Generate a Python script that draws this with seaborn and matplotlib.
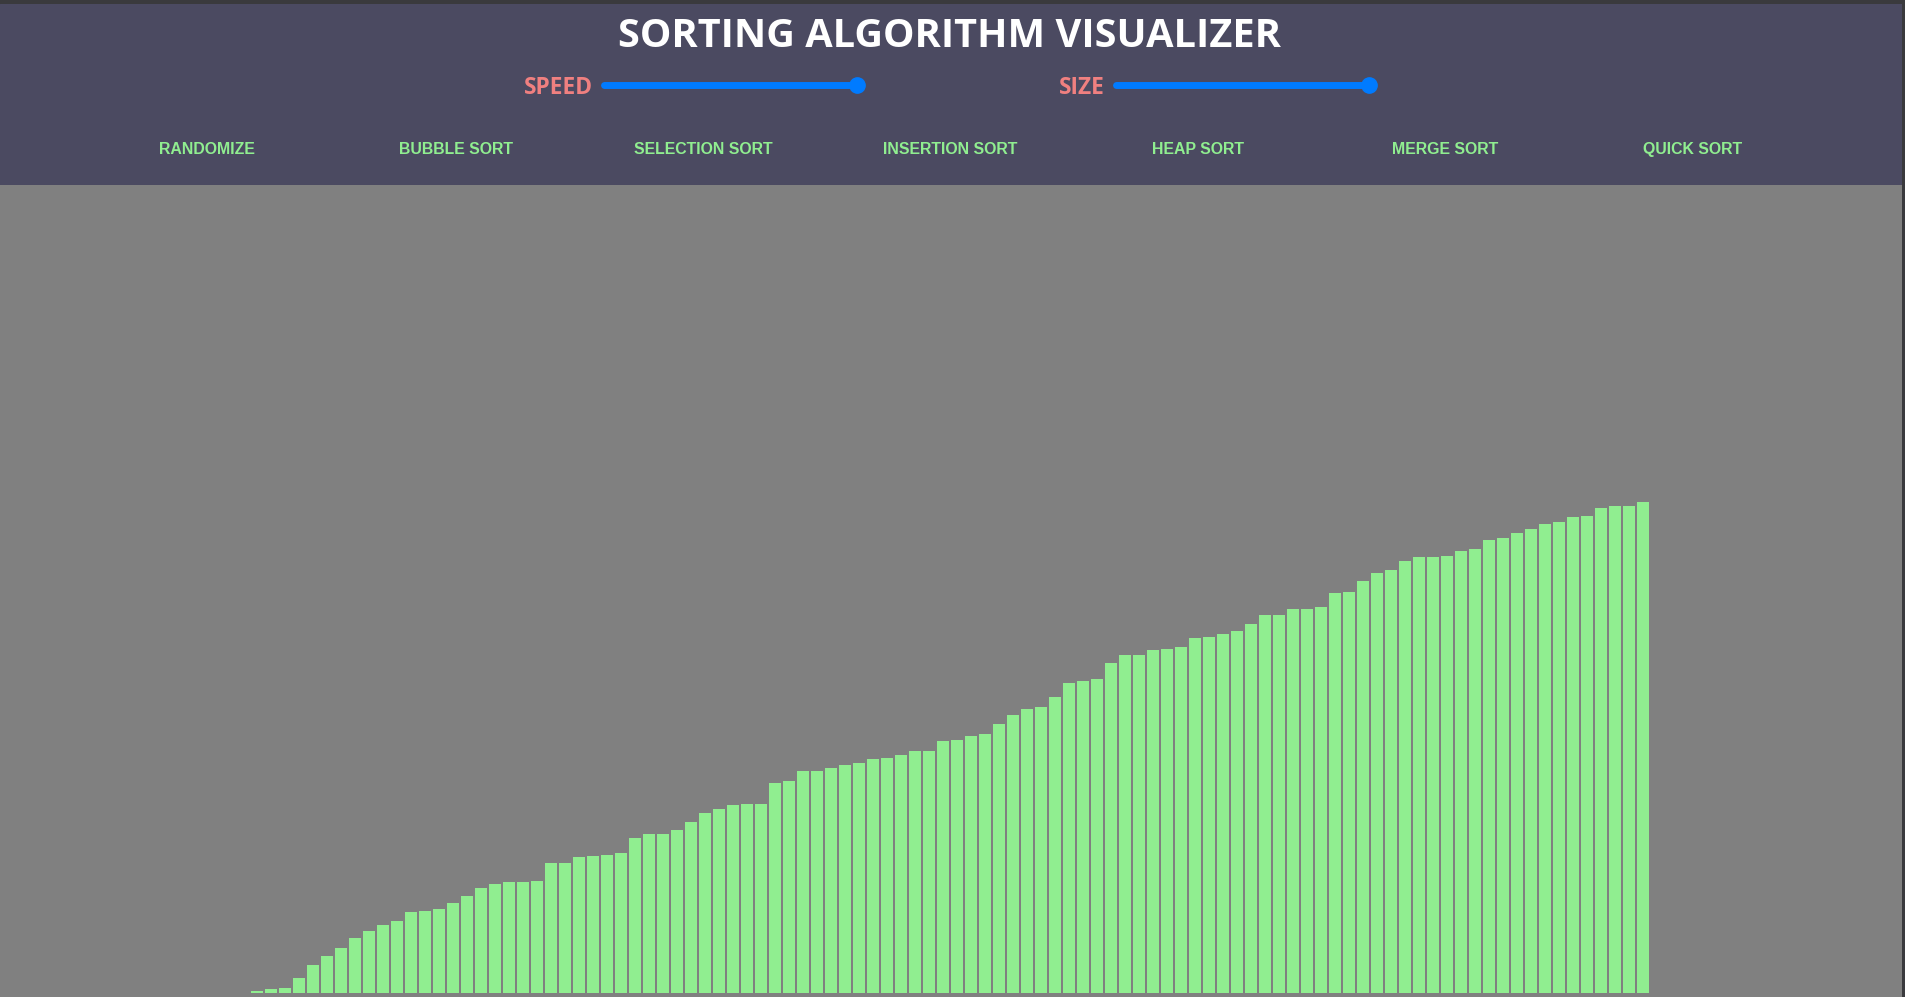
import numpy as np
import pandas as pd
import matplotlib
matplotlib.use('Agg')
import matplotlib.pyplot as plt
import seaborn as sns

# bar heights of the (sorted) array shown in the visualizer
heights = [2, 4, 5, 15, 28, 37, 45, 55, 62, 68,
           72, 81, 82, 84, 90, 97, 105, 109, 111, 111,
           112, 130, 130, 136, 137, 138, 140, 155, 159, 159,
           163, 171, 180, 184, 188, 189, 189, 210, 212,
           222, 222, 225, 228, 230, 234, 235, 238, 242, 242,
           252, 253, 257, 259, 269, 278, 284, 286, 296, 310,
           312, 314, 330, 338, 338, 343, 344, 346, 355, 356,
           359, 362, 369, 378, 378, 384, 384, 386,
           400, 401, 412, 420, 423, 432, 436, 436, 437, 442,
           444, 453, 455, 460, 464, 469, 471, 476, 477, 485,
           487, 487, 491]
title = 'SORTING ALGORITHM VISUALIZER'
slider_labels = ['SPEED', 'SIZE']
buttons = ['RANDOMIZE', 'BUBBLE SORT', 'SELECTION SORT', 'INSERTION SORT',
           'HEAP SORT', 'MERGE SORT', 'QUICK SORT']

df = pd.DataFrame({'idx': np.arange(len(heights)), 'value': heights})

W, H = 1905, 997
fig = plt.figure(figsize=(W / 100, H / 100), dpi=100, facecolor='#3a3a3d')

# header panel (pixel coords, y downward)
hdr = fig.add_axes([0, (H - 185) / H, 1902 / W, 181 / H])
hdr.set_xlim(0, 1902)
hdr.set_ylim(185, 4)
hdr.axis('off')
hdr.add_patch(plt.Rectangle((0, 4), 1902, 181, color='#4b4a61', zorder=0))

hdr.text(950, 47, title, ha='center', va='baseline', color='white',
         fontsize=28.6, fontweight='bold', family='Open Sans')

# sliders
label_right = [593, 1105]
track_start = [604, 1116]
track_end = [857, 1369]
for lab, lx, x0, x1 in zip(slider_labels, label_right, track_start, track_end):
    hdr.text(lx, 94, lab, ha='right', va='baseline', color='#f08080',
             fontsize=16.4, fontweight='bold', family='Open Sans')
    hdr.plot([x0, x1], [85, 85], color='#007bff', lw=5, solid_capstyle='round')
    hdr.plot([x1], [85], 'o', color='#007bff', markersize=11)

# buttons
btn_x = [207, 456, 703, 950, 1198, 1445, 1693]
for b, bx in zip(buttons, btn_x):
    hdr.text(bx, 154, b, ha='center', va='baseline', color='#90ee90',
             fontsize=11.4, fontweight='bold', family='Liberation Sans')

# bar area
ax = fig.add_axes([0, 0, 1902 / W, 812 / H])
ax.set_facecolor('#808080')
sns.barplot(data=df, x='idx', y='value', color='#90ee90', saturation=1,
            width=0.843, linewidth=0, ax=ax)
ax.set_xlim(-256.9 / 14, (1902 - 256.9) / 14)
ax.set_ylim(-4, 808)
ax.set_xticks([])
ax.set_yticks([])
ax.set_xlabel('')
ax.set_ylabel('')
for s in ax.spines.values():
    s.set_visible(False)

fig.savefig('out.png', dpi=100, facecolor=fig.get_facecolor())
